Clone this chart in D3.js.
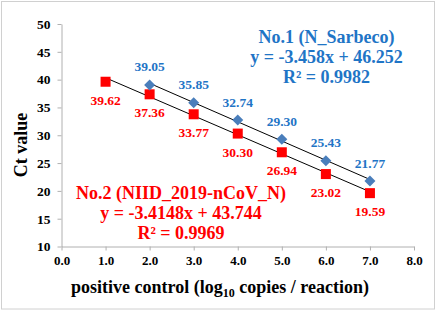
<!DOCTYPE html>
<html>
<head>
<meta charset="utf-8">
<script src="https://cdn.jsdelivr.net/npm/d3@7"></script>
</head>
<body style="margin:0; background:#fff">
<div id="chart"></div>
<script>
'use strict';

// standard curve data, x = log10 copies / reaction
const x_ticks = [0, 1, 2, 3, 4, 5, 6, 7, 8];
const y_ticks = [10, 15, 20, 25, 30, 35, 40, 45, 50];

const n1_x = [2, 3, 4, 5, 6, 7];
const n1_ct = [39.05, 35.85, 32.74, 29.30, 25.43, 21.77];
const n1_fit = { slope: -3.458, icept: 46.252, r2: "0.9982" };

const n2_x = [1, 2, 3, 4, 5, 6, 7];
const n2_ct = [39.62, 37.36, 33.77, 30.30, 26.94, 23.02, 19.59];
const n2_fit = { slope: -3.4148, icept: 43.744, r2: "0.9969" };

const blue_txt = "#1F75C6";
const blue_mark = "#4A7EBB";
const red = "#FF0000";
const FONT = "Liberation Serif";

const width = 440, height = 312;
const margin = { top: 24, right: 26, bottom: 65.5, left: 61.5 };

const root = d3.select("#chart").append("svg")
	.attr("width", width)
	.attr("height", height);

const svg = root.append("g")
	.attr("font-family", FONT)
	.attr("font-weight", "bold");

// outer frame
svg.append("rect")
	.attr("x", 1.5).attr("y", 1.5)
	.attr("width", 433).attr("height", 307.5)
	.attr("fill", "none")
	.attr("stroke", "#d0d0d0");

const x = d3.scaleLinear()
	.domain([0, 8])
	.range([margin.left, width - margin.right]);

const y = d3.scaleLinear()
	.domain([10, 50])
	.range([height - margin.bottom, margin.top]);

const axis_col = "#b0b0b0";

const xAxis = g => g
	.attr("transform", `translate(0,${y(10)})`)
	.call(d3.axisBottom(x).tickValues(x_ticks).tickFormat(d3.format(".1f")).tickSize(4).tickSizeOuter(0))
	.attr("font-family", FONT)
	.call(g => g.selectAll("line, path").attr("stroke", axis_col))
	.call(g => g.selectAll("text")
		.attr("font-family", FONT)
		.attr("font-weight", "bold")
		.attr("font-size", 13)
		.attr("fill", "#000")
		.attr("dy", "0.85em"));

const yAxis = g => g
	.attr("transform", `translate(${x(0)},0)`)
	.call(d3.axisLeft(y).tickValues(y_ticks).tickSize(4).tickSizeOuter(0))
	.attr("font-family", FONT)
	.call(g => g.selectAll("line, path").attr("stroke", axis_col))
	.call(g => g.selectAll("text")
		.attr("font-family", FONT)
		.attr("font-weight", "bold")
		.attr("font-size", 13.5)
		.attr("fill", "#000")
		.attr("x", -11));

svg.append("g").call(xAxis);
svg.append("g").call(yAxis);

// trend lines
function trend(xs, fit)
{
	const x0 = d3.min(xs), x1 = d3.max(xs);
	svg.append("line")
		.attr("x1", x(x0)).attr("y1", y(fit.slope * x0 + fit.icept))
		.attr("x2", x(x1)).attr("y2", y(fit.slope * x1 + fit.icept))
		.attr("stroke", "#000")
		.attr("stroke-width", 1);
}
trend(n1_x, n1_fit);
trend(n2_x, n2_fit);

// markers
svg.append("g").selectAll("rect")
	.data(n2_x)
	.join("rect")
		.attr("x", (d, i) => x(d) - 5)
		.attr("y", (d, i) => y(n2_ct[i]) - 5)
		.attr("width", 10)
		.attr("height", 10)
		.attr("fill", red);

svg.append("g").selectAll("path")
	.data(n1_x)
	.join("path")
		.attr("transform", (d, i) => `translate(${x(d)},${y(n1_ct[i])})`)
		.attr("d", "M0,-5.5L5.5,0L0,5.5L-5.5,0Z")
		.attr("fill", blue_mark);

// data labels
svg.append("g").selectAll("text")
	.data(n1_x)
	.join("text")
		.attr("x", d => x(d))
		.attr("y", (d, i) => y(n1_ct[i]) - 13.5)
		.attr("text-anchor", "middle")
		.attr("font-size", 13.5)
		.attr("fill", blue_txt)
		.text((d, i) => n1_ct[i].toFixed(2));

svg.append("g").selectAll("text")
	.data(n2_x)
	.join("text")
		.attr("x", d => x(d))
		.attr("y", (d, i) => y(n2_ct[i]) + 23)
		.attr("text-anchor", "middle")
		.attr("font-size", 13.5)
		.attr("fill", red)
		.text((d, i) => n2_ct[i].toFixed(2));

// equation boxes
function eq_block(cx, top, col, name, fit)
{
	const lines = [
		name,
		`y = ${fit.slope}x + ${fit.icept}`,
		`R² = ${fit.r2}`];
	svg.append("g").selectAll("text")
		.data(lines)
		.join("text")
			.attr("x", cx)
			.attr("y", (d, i) => top + i * 20)
			.attr("text-anchor", "middle")
			.attr("font-size", 18)
			.attr("fill", col)
			.text(d => d);
}
eq_block(326.5, 43, blue_txt, "No.1 (N_Sarbeco)", n1_fit);
eq_block(181, 199, red, "No.2 (NIID_2019-nCoV_N)", n2_fit);

// axis titles
svg.append("text")
	.attr("transform", "translate(27,145) rotate(-90)")
	.attr("text-anchor", "middle")
	.attr("font-size", 18)
	.text("Ct value");

const xt = svg.append("text")
	.attr("x", 220)
	.attr("y", 293)
	.attr("text-anchor", "middle")
	.attr("font-size", 18);
xt.append("tspan").text("positive control (log");
xt.append("tspan").attr("font-size", 12).attr("dy", 4).text("10");
xt.append("tspan").attr("dy", -4).text(" copies / reaction)");
</script>
</body>
</html>
